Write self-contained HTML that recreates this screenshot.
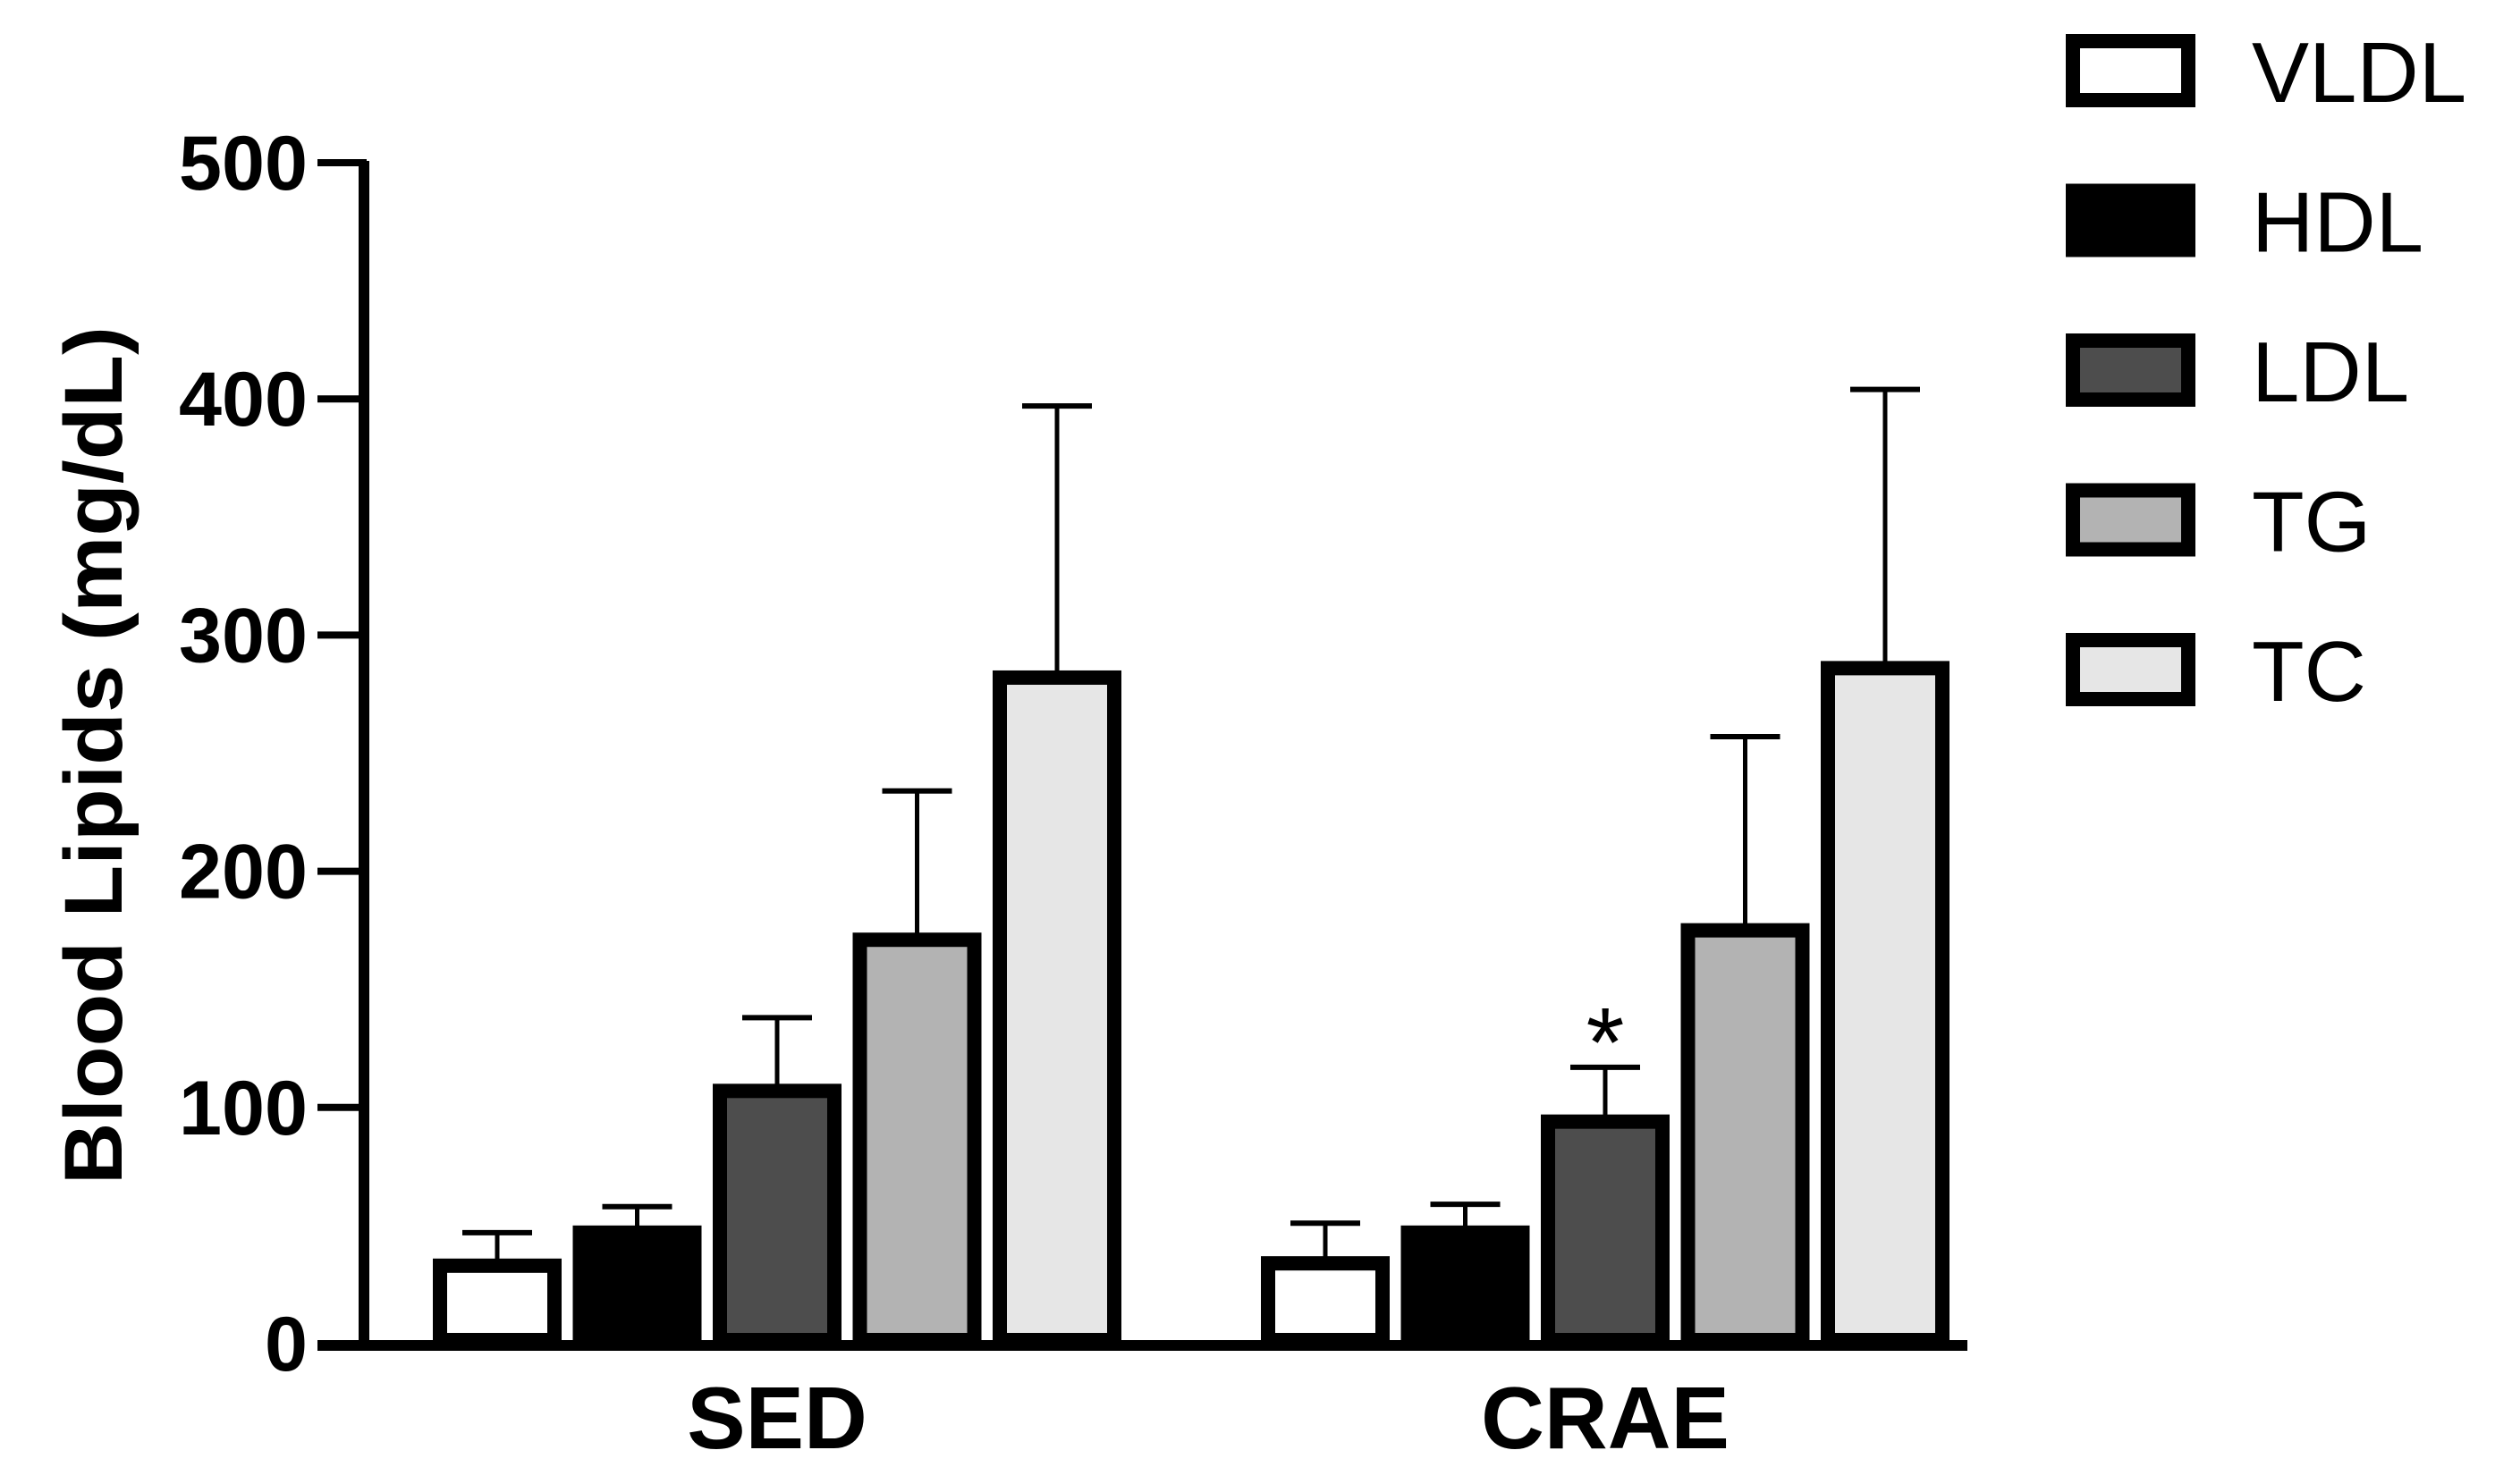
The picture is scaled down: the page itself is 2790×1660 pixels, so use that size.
<!DOCTYPE html>
<html><head><meta charset="utf-8"><style>
html,body{margin:0;padding:0;background:#fff;}
svg{display:block;font-family:"Liberation Sans",Arial,sans-serif;}
</style></head><body>
<svg id="chart" width="2790" height="1660" viewBox="0 0 2790 1660">
<g id="axes"></g>
<g id="bars"></g>
<g id="legend"></g>
</svg>
<script>
const categories = ["SED", "CRAE"];
const seriesNames = ["VLDL", "HDL", "LDL", "TG", "TC"];
const seriesFills = ["#ffffff", "#000000", "#4d4d4d", "#b3b3b3", "#e6e6e6"];
const sedMeans = [33, 47, 107, 171, 282];
const sedErrors = [14, 11, 31, 63, 115];
const craeMeans = [34, 47, 94, 175, 286];
const craeErrors = [17, 12, 23, 82, 118];
const yTicks = [0, 100, 200, 300, 400, 500];
const significant = [[1, 2]];

const NS = "http://www.w3.org/2000/svg";
function mk(tag, attrs, parent) { const e = document.createElementNS(NS, tag); for (const k in attrs) e.setAttribute(k, attrs[k]); parent.appendChild(e); return e; }
const y0px = 1503, y500px = 182;
function yScale(v) { return y0px - (v / 500) * (y0px - y500px); }
const groupCenters = [869, 1795];
const pitch = 156.5, barW = 128, stroke = 16;
function xBar(g, s) { return groupCenters[g] + (s - 2) * pitch; }

const axes = document.getElementById('axes');
const bars = document.getElementById('bars');
const legend = document.getElementById('legend');

let ya = mk('line', {x1: 407, y1: yScale(500) - 2, x2: 407, y2: 1511, stroke: '#000', 'stroke-width': 12}, axes);


let xa = mk('line', {x1: 355, y1: 1505, x2: 2200, y2: 1505, stroke: '#000', 'stroke-width': 12}, axes);


yTicks.forEach(t => {
  const y = yScale(t);
  let tl = mk('line', {x1: 355, y1: y, x2: 410, y2: y, stroke: '#000', 'stroke-width': 8}, axes);
  
  
  let tx = mk('text', {x: 344, y: y + 30, 'text-anchor': 'end', 'font-size': 86, 'font-weight': 'bold', textLength: 48 * String(t).length, lengthAdjust: 'spacingAndGlyphs'}, axes);
  tx.textContent = String(t);
  
  
});
let yt = mk('text', {x: 0, y: 0, 'text-anchor': 'middle', 'font-size': 92, 'font-weight': 'bold', textLength: 960, lengthAdjust: 'spacingAndGlyphs', transform: 'translate(136,845) rotate(-90)'}, axes);
yt.textContent = 'Blood Lipids (mg/dL)';


categories.forEach((c, g) => {
  let t = mk('text', {x: groupCenters[g], y: 1620, 'text-anchor': 'middle', 'font-size': 98, 'font-weight': 'bold'}, axes);
  t.textContent = c;
  
  
});

const means = [sedMeans, craeMeans];
const errs = [sedErrors, craeErrors];
for (let g = 0; g < categories.length; g++) {
  for (let s = 0; s < seriesNames.length; s++) {
    const cx = xBar(g, s), v = means[g][s], e = errs[g][s];
    const top = yScale(v), etop = yScale(v + e);
    let el = mk('line', {x1: cx, y1: top, x2: cx, y2: etop, stroke: '#000', 'stroke-width': 5}, bars);
    
    
    let ec = mk('line', {x1: cx - 39, y1: etop, x2: cx + 39, y2: etop, stroke: '#000', 'stroke-width': 6}, bars);
    
    
    let r = mk('rect', {x: cx - barW / 2, y: top, width: barW, height: 1499 - top, fill: seriesFills[s], stroke: '#000', 'stroke-width': stroke}, bars);
    
    
  }
}
significant.forEach(([g, s]) => {
  const cx = xBar(g, s), y = yScale(means[g][s] + errs[g][s]);
  let a = mk('text', {x: cx, y: y + 10, 'text-anchor': 'middle', 'font-size': 110}, bars);
  a.textContent = '*';
  
  
});

seriesNames.forEach((n, i) => {
  const cy = 79 + i * 167.5;
  let r = mk('rect', {x: 2318, y: cy - 33, width: 129, height: 66, fill: seriesFills[i], stroke: '#000', 'stroke-width': 16}, legend);
  
  
  let t = mk('text', {x: 2518, y: cy + 35, 'font-size': 96}, legend);
  t.textContent = n;
  
  
});
</script>
</body></html>
